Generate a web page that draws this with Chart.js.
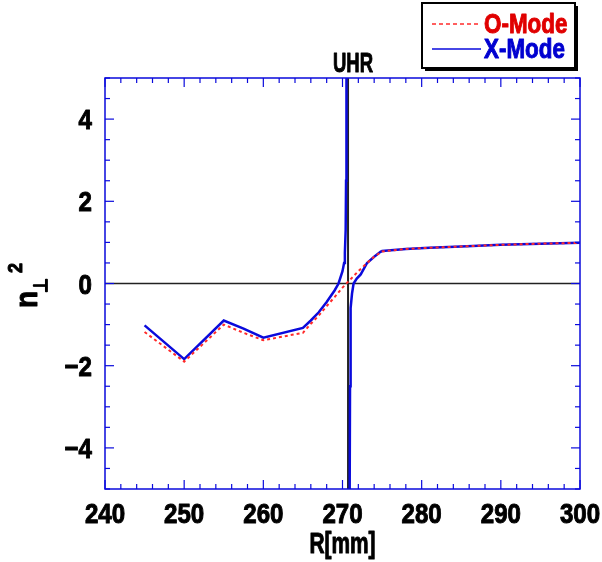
<!DOCTYPE html>
<html>
<head>
<meta charset="utf-8">
<script src="https://cdn.jsdelivr.net/npm/chart.js@4/dist/chart.umd.min.js"></script>
<style>
  html, body { margin: 0; padding: 0; background: #fff; }
  canvas { display: block; }
</style>
</head>
<body>
<canvas id="myChart" width="602" height="562"></canvas>
<script>
// O-mode dispersion n_perp^2 vs R
var oModeR = [245, 250, 255, 257.5, 260, 265, 266, 267, 268, 269, 270, 271, 272, 273, 274, 275, 278, 281, 285, 290, 295, 300];
var oModeN = [-1.18, -1.9, -1.0, -1.2, -1.38, -1.2, -0.98, -0.78, -0.55, -0.33, -0.1, 0.1, 0.3, 0.48, 0.65, 0.78, 0.84, 0.87, 0.9, 0.94, 0.97, 0.99];

// X-mode, branch below the upper hybrid resonance
var xLowR = [245, 250, 255, 257.5, 260, 265, 266, 267, 268, 269, 269.5, 270, 270.2, 270.3, 270.4, 270.45, 270.5];
var xLowN = [-1.02, -1.84, -0.9, -1.1, -1.32, -1.08, -0.9, -0.7, -0.45, -0.17, 0.0, 0.3, 0.5, 0.75, 1.3, 2.5, 5.5];

// X-mode, branch above the upper hybrid resonance
var xHighR = [270.9, 270.95, 271.0, 271.05, 271.2, 271.4, 271.8, 272.3, 273.1, 274, 274.8, 275, 278, 281, 285, 290, 295, 300];
var xHighN = [-5.5, -2.5, -1.2, -0.6, -0.25, 0.0, 0.12, 0.22, 0.5, 0.65, 0.77, 0.79, 0.84, 0.87, 0.9, 0.94, 0.97, 0.99];

var uhrR = 270.7;
var xTickLabels = [240, 250, 260, 270, 280, 290, 300];
var yTickLabels = [-4, -2, 0, 2, 4];

var FONT = '"Liberation Sans", Arial, sans-serif';
var BLUE = '#0a0adc';
var RED = '#ff2a2a';

function pts(xs, ys) {
  return xs.map(function (v, i) { return { x: v, y: ys[i] }; });
}

function line(ctx, x1, y1, x2, y2) {
  ctx.beginPath();
  ctx.moveTo(x1, y1);
  ctx.lineTo(x2, y2);
  ctx.stroke();
}

// heavy bold text squeezed horizontally (narrow gothic look)
function narrowText(ctx, text, x, y, size, sx, align) {
  ctx.save();
  ctx.font = 'bold ' + size + 'px ' + FONT;
  ctx.translate(x, y);
  ctx.scale(sx, 1);
  ctx.textAlign = align || 'left';
  ctx.strokeStyle = ctx.fillStyle;
  ctx.lineWidth = 1;
  ctx.lineJoin = 'round';
  ctx.strokeText(text, 0, 0);
  ctx.fillText(text, 0, 0);
  ctx.restore();
}

function fmt(v) {
  return v < 0 ? '\u2212' + Math.abs(v) : String(v);
}

var framePlugin = {
  id: 'frame',
  beforeDatasetsDraw: function (chart) {
    var ctx = chart.ctx, a = chart.chartArea, x = chart.scales.x, y = chart.scales.y;
    ctx.save();
    ctx.strokeStyle = '#222';
    ctx.lineWidth = 1.5;
    var y0 = y.getPixelForValue(0);
    line(ctx, a.left, y0, a.right, y0);
    ctx.lineWidth = 2;
    var xu = x.getPixelForValue(uhrR);
    line(ctx, xu, a.top, xu, a.bottom);
    ctx.restore();
  },
  afterDatasetsDraw: function (chart) {
    var ctx = chart.ctx, a = chart.chartArea, x = chart.scales.x, y = chart.scales.y;
    ctx.save();
    ctx.strokeStyle = BLUE;
    ctx.lineWidth = 1.5;
    ctx.strokeRect(a.left, a.top, a.right - a.left, a.bottom - a.top);
    ctx.lineWidth = 1.2;
    // inward ticks on all four sides
    for (var r = 240; r <= 300; r += 2) {
      var px = x.getPixelForValue(r);
      var len = (r % 10 === 0) ? 9 : 5;
      line(ctx, px, a.bottom, px, a.bottom - len);
      line(ctx, px, a.top, px, a.top + len);
    }
    for (var k = -10; k <= 10; k++) {
      var py = y.getPixelForValue(k / 2);
      var l2 = (k % 4 === 0) ? 9 : 5;
      line(ctx, a.left, py, a.left + l2, py);
      line(ctx, a.right, py, a.right - l2, py);
    }
    ctx.restore();
  },
  afterDraw: function (chart) {
    var ctx = chart.ctx, a = chart.chartArea, x = chart.scales.x, y = chart.scales.y;
    ctx.save();
    ctx.fillStyle = '#000';
    ctx.textBaseline = 'alphabetic';

    // tick labels
    x.ticks.forEach(function (t) {
      narrowText(ctx, fmt(t.value), x.getPixelForValue(t.value), a.bottom + 34, 28, 0.86, 'center');
    });
    y.ticks.forEach(function (t) {
      narrowText(ctx, fmt(t.value), a.left - 13, y.getPixelForValue(t.value) + 10, 28, 0.86, 'right');
    });

    // axis titles
    narrowText(ctx, 'R[mm]', (a.left + a.right) / 2, 553, 29, 0.72, 'center');

    ctx.save();
    ctx.translate(37, 308);
    ctx.rotate(-Math.PI / 2);
    narrowText(ctx, 'n', 0, 0, 31, 0.9, 'left');
    narrowText(ctx, '\u22A5', 15, 10, 19, 0.9, 'left');
    narrowText(ctx, '2', 35, -15, 20, 0.9, 'left');
    ctx.restore();

    // resonance label
    narrowText(ctx, 'UHR', x.getPixelForValue(uhrR) + 5, 72, 28, 0.66, 'center');

    // legend box
    ctx.fillStyle = '#000';
    ctx.fillRect(425, 6, 153, 65);
    ctx.fillStyle = '#fff';
    ctx.fillRect(422, 3, 153, 65);
    ctx.strokeStyle = '#000';
    ctx.lineWidth = 2;
    ctx.strokeRect(422, 3, 153, 65);

    ctx.lineWidth = 1.5;
    ctx.strokeStyle = RED;
    ctx.setLineDash([4, 3]);
    line(ctx, 432, 24, 481, 24);
    ctx.setLineDash([]);
    ctx.strokeStyle = BLUE;
    line(ctx, 432, 49, 481, 49);

    ctx.fillStyle = '#e00000';
    narrowText(ctx, 'O-Mode', 484, 33, 28, 0.8, 'left');
    ctx.fillStyle = '#0000d0';
    narrowText(ctx, 'X-Mode', 484, 58, 28, 0.8, 'left');
    ctx.restore();
  }
};

new Chart('myChart', {
  type: 'scatter',
  data: {
    datasets: [{
      label: 'O-Mode',
      data: pts(oModeR, oModeN),
      showLine: true,
      borderColor: RED,
      borderWidth: 2,
      borderDash: [3, 3],
      pointRadius: 0
    }, {
      label: 'X-Mode',
      data: pts(xLowR, xLowN),
      showLine: true,
      borderColor: BLUE,
      borderWidth: 2.5,
      pointRadius: 0
    }, {
      label: 'X-Mode',
      data: pts(xHighR, xHighN),
      showLine: true,
      borderColor: BLUE,
      borderWidth: 2.5,
      pointRadius: 0
    }]
  },
  options: {
    responsive: false,
    animation: false,
    layout: { padding: { left: 0, top: 78, right: 22, bottom: 0 } },
    plugins: {
      legend: { display: false },
      tooltip: { enabled: false }
    },
    scales: {
      x: {
        type: 'linear',
        min: 240,
        max: 300,
        afterBuildTicks: function (s) {
          s.ticks = xTickLabels.map(function (v) { return { value: v }; });
        },
        afterFit: function (s) {
          s.height = 73;
          s.paddingLeft = 0;
          s.paddingRight = 0;
        },
        grid: { display: false, drawTicks: false },
        border: { display: false },
        ticks: { display: false }
      },
      y: {
        min: -5,
        max: 5,
        afterBuildTicks: function (s) {
          s.ticks = yTickLabels.map(function (v) { return { value: v }; });
        },
        afterFit: function (s) {
          s.width = 105;
          s.paddingTop = 0;
          s.paddingBottom = 0;
        },
        grid: { display: false, drawTicks: false },
        border: { display: false },
        ticks: { display: false }
      }
    }
  },
  plugins: [framePlugin]
});
</script>
</body>
</html>
